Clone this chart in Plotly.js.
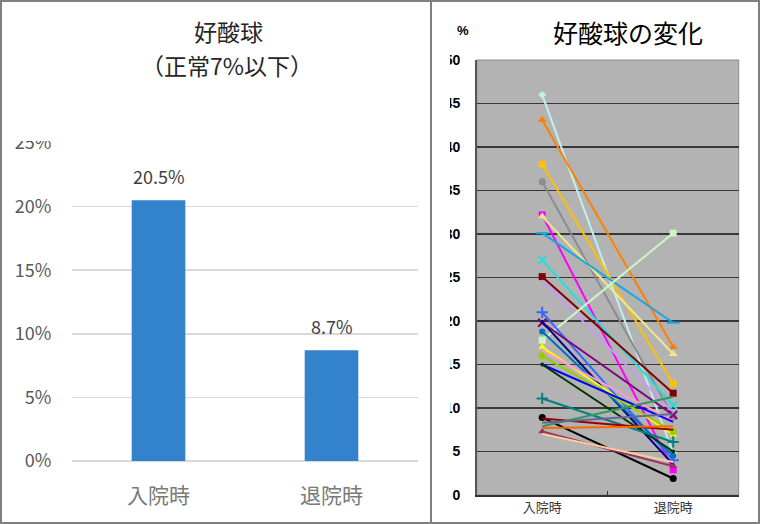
<!DOCTYPE html>
<html>
<head>
<meta charset="utf-8">
<script src="https://cdn.plot.ly/plotly-3.0.1.min.js"></script>
<style>html,body{margin:0;padding:0;background:#fff;}#chart{width:760px;height:524px;}</style>
</head>
<body>
<div id="chart"></div>
<script>
// ---- data ----
const categories = ['入院時', '退院時'];
const barValues = [20.5, 8.7];
const barLabels = ['20.5%', '8.7%'];
const leftTicks = [0, 5, 10, 15, 20, 25];
const leftTickText = ['0%', '5%', '10%', '15%', '20%', '25%'];

// individual patients (%): admission -> discharge
const admission = [46.0, 43.1, 38.0, 36.0, 32.2, 32.0, 30.1, 27.0, 25.1, 24.7, 17.8, 21.0, 19.8, 19.9, 18.8, 17.0, 16.6, 16.0, 15.0, 15.0, 11.1, 8.9, 8.8, 7.9, 7.7, 8.3, 7.3, 7.0];
const discharge = [4.8, 17.0, 12.8, 9.0, 2.9, 16.2, 19.8, 10.3, 11.7, 9.5, 30.1, 4.0, 9.2, 3.5, 4.5, 6.9, 8.5, 7.3, 8.4, 5.0, 6.1, 1.9, 7.5, 11.3, 7.9, 9.3, 3.3, 3.8];

// ---- styles ----
const lineColors = ['#bfeff0', '#ff8000', '#ffc000', '#8c8c8c', '#ff00ff', '#f0e68c', '#1aa6e0', '#1ee0e0', '#800000', '#c49bf5', '#ccf5c4', '#3366ff', '#800080', '#000080', '#0070c0', '#ffff00', '#ff99cc', '#99cc00', '#0000ff', '#003300', '#008080', '#000000', '#990000', '#2e9960', '#ff6600', '#666699', '#993366', '#ffcc99'];
const markerSymbols = ['diamond', 'triangle-up', 'square', 'circle', 'square', 'triangle-up', 'line-ew-open', 'x-thin-open', 'square', 'circle', 'square', 'cross-thin-open', 'x-thin-open', 'triangle-up', 'circle', 'triangle-up', 'circle', 'circle', 'circle', 'circle', 'cross-thin-open', 'circle', 'circle', 'circle', 'circle', 'circle', 'triangle-up', 'circle'];
const markerSizes = [6, 8, 7, 7, 7, 8, 9, 8, 7, 0, 7, 8, 8, 4, 6, 7, 0, 7, 0, 4, 8, 7, 0, 0, 0, 0, 7, 0];

const traces = [];
traces.push({
  type: 'bar', x: categories, y: barValues, xaxis: 'x', yaxis: 'y',
  marker: {color: '#3382cc'}, width: 0.31, hoverinfo: 'none'
});
for (let i = 0; i < admission.length; i++) {
  const hasMarker = markerSizes[i] > 0;
  const isOpen = markerSymbols[i].indexOf('open') >= 0;
  traces.push({
    type: 'scatter', mode: hasMarker ? 'lines+markers' : 'lines', xaxis: 'x2', yaxis: 'y2',
    x: categories, y: [admission[i], discharge[i]],
    line: {color: lineColors[i], width: 2},
    marker: {symbol: markerSymbols[i], size: markerSizes[i], color: lineColors[i], line: {color: lineColors[i], width: isOpen ? 2 : 0}},
    hoverinfo: 'none', cliponaxis: false
  });
}

const W = 760, H = 524;
const px = v => v / W, py = v => (H - v) / H;

const annotations = [
  {text: '好酸球', x: px(228), y: py(31), xref: 'paper', yref: 'paper', xanchor: 'center', yanchor: 'middle', showarrow: false, font: {size: 23, color: '#262626', family: 'Noto Sans CJK JP'}},
  {text: '（正常7%以下）', x: px(227), y: py(65), xref: 'paper', yref: 'paper', xanchor: 'center', yanchor: 'middle', showarrow: false, font: {size: 23, color: '#262626', family: 'Noto Sans CJK JP'}},
  {text: '好酸球の変化', x: px(628), y: py(32), xref: 'paper', yref: 'paper', xanchor: 'center', yanchor: 'middle', showarrow: false, font: {size: 25, color: '#000', family: 'Noto Sans CJK JP'}},
  {text: '%', x: px(463), y: py(30), xref: 'paper', yref: 'paper', xanchor: 'center', yanchor: 'middle', showarrow: false, font: {size: 13, color: '#000', family: 'Liberation Sans', weight: 'bold'}}
];
for (let i = 0; i < categories.length; i++) {
  annotations.push({text: barLabels[i], x: categories[i], y: barValues[i], xref: 'x', yref: 'y', xanchor: 'center', yanchor: 'bottom', yshift: 9, showarrow: false, font: {size: 18, color: '#404040', family: 'Noto Sans CJK JP'}});
}

const layout = {
  width: W, height: H, margin: {l: 0, r: 0, t: 0, b: 0},
  paper_bgcolor: '#fff', plot_bgcolor: 'rgba(0,0,0,0)', showlegend: false,
  xaxis: {domain: [px(72), px(418)], type: 'category', anchor: 'y', range: [-0.5, 1.5], showgrid: false, showline: false, zeroline: false,
    ticks: 'outside', ticklen: 16, tickcolor: 'rgba(0,0,0,0)', tickfont: {size: 21, color: '#7a7a7a', family: 'Noto Sans CJK JP'}, fixedrange: true},
  yaxis: {domain: [py(461), py(143)], range: [0, 25], anchor: 'x', tickmode: 'array', tickvals: leftTicks, ticktext: leftTickText,
    showgrid: true, gridcolor: '#d9d9d9', gridwidth: 1.5, zeroline: true, zerolinecolor: '#d9d9d9', zerolinewidth: 1.5, showline: false,
    ticks: 'outside', ticklen: 16, tickcolor: 'rgba(0,0,0,0)', tickfont: {size: 18, color: '#595959', family: 'Noto Sans CJK JP'}, fixedrange: true},
  xaxis2: {domain: [px(476.7), px(738.7)], type: 'category', anchor: 'y2', range: [-0.5, 1.5], showgrid: false, tickson: 'boundaries',
    ticks: 'inside', ticklen: 4, tickcolor: '#333', showline: true, linecolor: '#333', linewidth: 1.5,
    tickfont: {size: 13, color: '#333', family: 'Noto Sans CJK JP'}, fixedrange: true},
  yaxis2: {domain: [py(495), py(60)], range: [0, 50], anchor: 'x2', dtick: 5, tick0: 0,
    showgrid: true, gridcolor: '#383838', gridwidth: 1.6, zeroline: false, showline: true, linecolor: '#555', linewidth: 1.5,
    ticks: 'outside', ticklen: 12, tickcolor: 'rgba(0,0,0,0)', tickfont: {size: 14, color: '#000', family: 'Liberation Sans', weight: 'bold'}, fixedrange: true},
  shapes: [
    {type: 'rect', xref: 'x2 domain', yref: 'y2 domain', x0: 0, x1: 1, y0: 0, y1: 1, fillcolor: '#b3b3b3', line: {color: '#8c8c8c', width: 1}, layer: 'below'},
    {type: 'rect', xref: 'paper', yref: 'paper', x0: px(3), x1: px(68), y0: py(141), y1: py(122), fillcolor: '#fff', line: {width: 0}, layer: 'above'},
    {type: 'rect', xref: 'paper', yref: 'paper', x0: px(433), x1: px(450), y0: py(500), y1: py(45), fillcolor: '#fff', line: {width: 0}, layer: 'above'},
    {type: 'rect', xref: 'paper', yref: 'paper', x0: px(1), x1: px(759), y0: py(523), y1: py(1), fillcolor: 'rgba(0,0,0,0)', line: {color: '#808080', width: 2}, layer: 'above'},
    {type: 'line', xref: 'paper', yref: 'paper', x0: px(431), x1: px(431), y0: 0, y1: 1, line: {color: '#808080', width: 2}, layer: 'above'}
  ],
  annotations: annotations
};

Plotly.newPlot('chart', traces, layout, {displayModeBar: false, staticPlot: true});
</script>
</body>
</html>
